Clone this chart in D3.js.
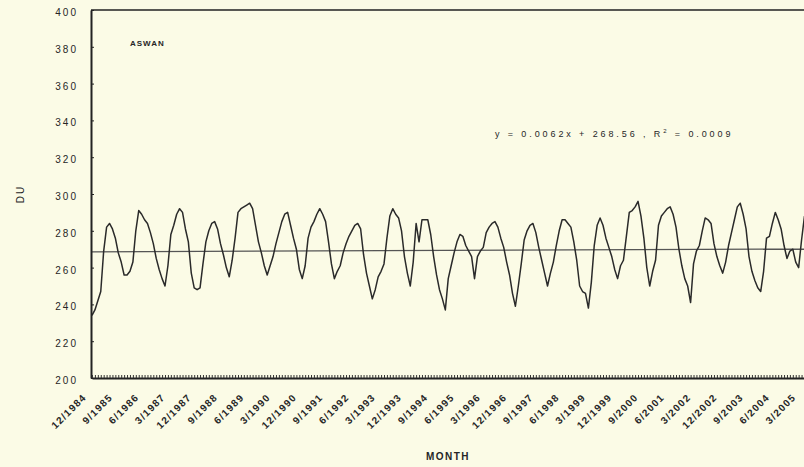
<!DOCTYPE html>
<html>
<head>
<meta charset="utf-8">
<script src="https://cdn.jsdelivr.net/npm/d3@7/dist/d3.min.js"></script>
<style>
  body { margin: 0; background: #fbfbe6; }
  svg { display: block; }
  text { font-family: "Liberation Sans", Arial, sans-serif; fill: #262626; }
</style>
</head>
<body>
<div id="chart"></div>
<script>
// monthly total ozone (DU) at Aswan, one row per 12 months starting 12/1984
var ozone = [
    234, 237, 242, 247, 269, 282, 284, 281, 276, 268, 263, 256,
    256, 258, 263, 280, 291, 289, 286, 284, 279, 273, 265, 259,
    254, 250, 261, 278, 283, 289, 292, 290, 281, 274, 257, 249,
    248, 249, 262, 274, 280, 284, 285, 281, 273, 267, 260, 255,
    264, 276, 290, 292, 293, 294, 295, 292, 283, 274, 268, 261,
    256, 261, 266, 273, 279, 285, 289, 290, 283, 276, 270, 259,
    254, 261, 276, 282, 285, 289, 292, 289, 285, 274, 262, 254,
    258, 261, 268, 273, 277, 280, 283, 284, 281, 267, 257, 250,
    243, 248, 255, 258, 262, 276, 288, 292, 289, 287, 280, 266,
    257, 250, 263, 284, 274, 286, 286, 286, 278, 266, 256, 248,
    243, 237, 254, 261, 268, 274, 278, 277, 272, 269, 266, 254,
    266, 269, 271, 279, 282, 284, 285, 282, 276, 271, 263, 256,
    246, 239, 250, 262, 275, 280, 283, 284, 279, 271, 264, 257,
    250, 257, 263, 272, 280, 286, 286, 284, 282, 274, 264, 250,
    247, 246, 238, 252, 272, 283, 287, 283, 276, 271, 266, 259,
    254, 261, 264, 277, 290, 291, 293, 296, 288, 276, 260, 250,
    258, 264, 283, 288, 290, 292, 293, 289, 282, 270, 261, 254,
    250, 241, 262, 269, 272, 280, 287, 286, 284, 273, 266, 261,
    257, 263, 272, 279, 286, 293, 295, 289, 281, 266, 258, 253,
    249, 247, 258, 276, 277, 284, 290, 286, 281, 272, 265, 269,
    270, 263, 260, 275, 288
];

// category labels, one every 9 months
var monthLabels = ["12/1984", "9/1985", "6/1986", "3/1987", "12/1987", "9/1988", "6/1989",
    "3/1990", "12/1990", "9/1991", "6/1992", "3/1993", "12/1993", "9/1994", "6/1995",
    "3/1996", "12/1996", "9/1997", "6/1998", "3/1999", "12/1999", "9/2000", "6/2001",
    "3/2002", "12/2002", "9/2003", "6/2004", "3/2005"];
var labelStep = 9;

var yTicks = [200, 220, 240, 260, 280, 300, 320, 340, 360, 380, 400];

// linear trend as printed on the chart (x = month number)
var trendSlope = 0.0062,
    trendIntercept = 268.56;
var equationText = "y = 0.0062x + 268.56 ,  R";
var rSquaredText = " = 0.0009";
var stationName = "ASWAN";

//set up svg
var width = 804,
    height = 467;

var svg = d3.select("#chart")
    .append("svg")
    .attr("width", width)
    .attr("height", height)

// plot runs past the right edge, like the scanned page
var x = d3.scaleLinear().domain([0, 250]).range([92, 822])
var y = d3.scaleLinear().domain([200, 400]).range([378, 10])

//trend line
svg.append("line")
    .attr("x1", x(0))
    .attr("x2", x(250))
    .attr("y1", y(trendIntercept + trendSlope * 1))
    .attr("y2", y(trendIntercept + trendSlope * 251))
    .attr("stroke", "#555")
    .attr("stroke-width", 1.3)

//ozone series
var line = d3.line()
    .x(function(d, i) { return x(i) })
    .y(function(d) { return y(d) })

svg.append("path")
    .datum(ozone)
    .attr("d", line)
    .attr("fill", "none")
    .attr("stroke", "#2a2a2a")
    .attr("stroke-width", 1.5)
    .attr("stroke-linejoin", "round")

//top frame line
svg.append("line")
    .attr("x1", x(0) - 1)
    .attr("x2", width)
    .attr("y1", y(400))
    .attr("y2", y(400))
    .attr("stroke", "#222")
    .attr("stroke-width", 1.5)

//y axis with inside ticks
var yAxis = svg.append("g")
    .attr("transform", "translate(" + (x(0) - 1) + ",0)")
    .call(d3.axisLeft(y).tickValues(yTicks).tickSize(-3).tickSizeOuter(0).tickPadding(13))

yAxis.select(".domain").attr("stroke", "#222").attr("stroke-width", 2)
yAxis.selectAll(".tick line").attr("stroke", "#222")
yAxis.selectAll("text")
    .attr("font-size", 10)
    .attr("letter-spacing", 2)
    .attr("font-family", "Liberation Sans, Arial, sans-serif")
    .attr("fill", "#333")
    .attr("dy", "0.55em")

//x axis, a tick every month
var xAxis = svg.append("g")
    .attr("transform", "translate(0," + y(200) + ")")
    .call(d3.axisBottom(x).tickValues(d3.range(0, 251)).tickSize(-3).tickSizeOuter(0).tickFormat(""))

xAxis.select(".domain").attr("stroke", "#222").attr("stroke-width", 2)
xAxis.selectAll(".tick line").attr("stroke", "#333")

//rotated month labels
svg.selectAll(".month-label")
    .data(monthLabels)
    .enter().append("text")
    .attr("class", "month-label")
    .attr("transform", function(d, i) {
        return "translate(" + (x(i * labelStep) - 5) + "," + 398 + ") rotate(-45)"
    })
    .attr("text-anchor", "end")
    .attr("font-size", 10)
    .attr("font-weight", "bold")
    .attr("letter-spacing", 1.2)
    .text(function(d) { return d })

//axis titles
svg.append("text")
    .attr("x", 448)
    .attr("y", 460)
    .attr("text-anchor", "middle")
    .attr("font-size", 10)
    .attr("font-weight", "bold")
    .attr("letter-spacing", 1.5)
    .text("MONTH")

svg.append("text")
    .attr("transform", "translate(24,194) rotate(-90)")
    .attr("text-anchor", "middle")
    .attr("font-size", 10)
    .attr("letter-spacing", 2)
    .text("DU")

//station name
svg.append("text")
    .attr("x", 130)
    .attr("y", 46)
    .attr("font-size", 8)
    .attr("font-weight", "bold")
    .attr("letter-spacing", 1)
    .text(stationName)

//regression equation
var eq = svg.append("text")
    .attr("x", 495)
    .attr("y", 137)
    .attr("font-size", 9)
    .attr("letter-spacing", 2.9)

eq.append("tspan").text(equationText)
eq.append("tspan").attr("dy", -4).attr("font-size", 6).text("2")
eq.append("tspan").attr("dy", 4).text(rSquaredText)
</script>
</body>
</html>
